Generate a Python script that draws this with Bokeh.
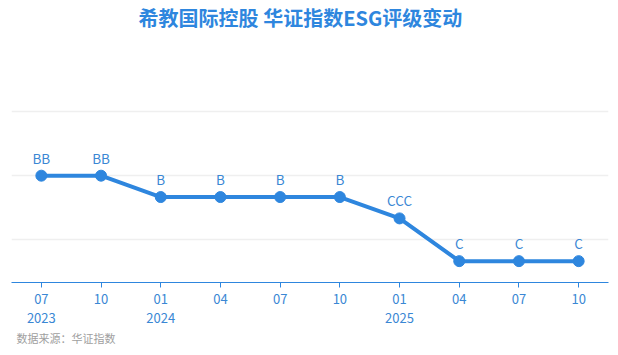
from bokeh.plotting import figure
from bokeh.models import (ColumnDataSource, CategoricalAxis, FixedTicker, Range1d,
                          Label, Title, LabelSet, CustomJSTickFormatter)
from bokeh.core.properties import value
from bokeh.embed import file_html
from bokeh.resources import INLINE

# data
periods = ["2023-07", "2023-10", "2024-01", "2024-04", "2024-07",
           "2024-10", "2025-01", "2025-04", "2025-07", "2025-10"]
month_labels = ["07", "10", "01", "04", "07", "10", "01", "04", "07", "10"]
year_labels = ["2023", "", "2024", "", "", "", "2025", "", "", ""]
ratings = ["BB", "BB", "B", "B", "B", "B", "CCC", "C", "C", "C"]
scale = ["C", "CC", "CCC", "B", "BB", "BBB", "A", "AA", "AAA"]
scores = [scale.index(r) + 1 for r in ratings]

title_text = "希教国际控股 华证指数ESG评级变动"
source_text = "数据来源：华证指数"

BLUE = "#2e86de"
LBLUE = "#3a87d4"
CJK = "Noto Sans CJK SC"

src = ColumnDataSource(dict(x=periods, y=scores, r=ratings))

p = figure(width=618, height=355, x_range=periods, y_range=Range1d(0, 13.2),
           output_backend="svg", toolbar_location=None,
           min_border_left=11, min_border_right=10, min_border_top=0,
           min_border_bottom=73)
p.outline_line_color = None
p.background_fill_color = "white"

p.line("x", "y", source=src, line_color=BLUE, line_width=4)
p.scatter("x", "y", source=src, size=11, fill_color=BLUE, line_color=BLUE)
p.add_layout(LabelSet(x="x", y="y", text="r", source=src, y_offset=8,
                      text_align="center", text_baseline="bottom",
                      text_font_size="13.5px", text_color=LBLUE,
                      text_font=value(CJK)))

# y axis hidden, grid only
p.yaxis.visible = False
p.yaxis.ticker = FixedTicker(ticks=[2, 5, 8])
p.ygrid.ticker = FixedTicker(ticks=[2, 5, 8])
p.ygrid.grid_line_color = "#efefef"
p.ygrid.grid_line_width = 1.5
p.xgrid.visible = False

fmt_code = "return labels[tick] === undefined ? '' : labels[tick];"

ax = p.xaxis[0]
ax.formatter = CustomJSTickFormatter(args=dict(labels=dict(zip(periods, month_labels))),
                                     code=fmt_code)
ax.axis_line_color = BLUE
ax.major_tick_line_color = BLUE
ax.major_tick_in = 0
ax.major_tick_out = 5
ax.major_label_text_color = LBLUE
ax.major_label_text_font_size = "13px"
ax.major_label_text_font = CJK
ax.major_label_standoff = 6

yax = CategoricalAxis(formatter=CustomJSTickFormatter(
                          args=dict(labels=dict(zip(periods, year_labels))), code=fmt_code),
                      axis_line_color=None, major_tick_line_color=None,
                      major_label_text_color=LBLUE, major_label_text_font_size="13px",
                      major_label_text_font=CJK, major_label_standoff=0)
p.add_layout(yax, "below")

p.add_layout(Title(text=source_text, align="left", text_font_size="11px",
                   text_color="#a0a0a0", text_font=CJK, text_font_style="normal",
                   offset=5, standoff=4), "below")

p.add_layout(Label(x=4.84, y=12.4, text=title_text, text_align="center",
                   text_baseline="middle", text_font_size="20px",
                   text_font_style="bold", text_color=BLUE, text_font=CJK))

open("out.html", "w").write(file_html(p, INLINE))
